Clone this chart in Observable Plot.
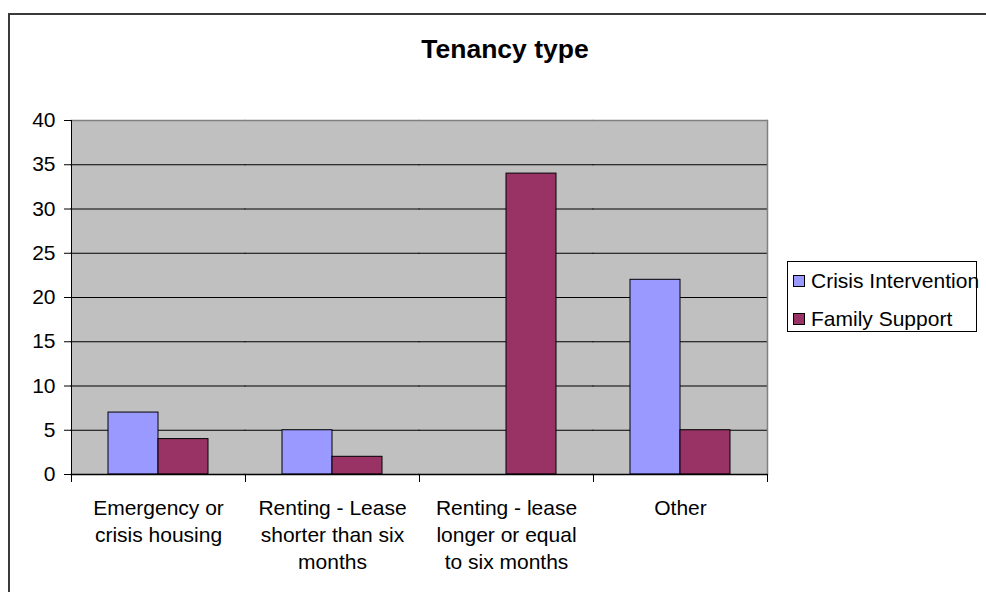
<!DOCTYPE html>
<html>
<head>
<meta charset="utf-8">
<script src="https://cdn.jsdelivr.net/npm/d3@7"></script>
<script src="https://cdn.jsdelivr.net/npm/@observablehq/plot@0.6"></script>
<style>
  html, body { margin: 0; padding: 0; background: #fff; }
  body { width: 986px; height: 592px; position: relative; overflow: hidden; font-family: "Liberation Sans", Arial, sans-serif; }
  #outer { position: absolute; left: 8px; top: 13px; width: 1000px; height: 600px; border-top: 2px solid #3a3a3a; border-left: 2px solid #3a3a3a; }
  #title { position: absolute; left: 0; width: 1010px; top: 36px; text-align: center; font-weight: bold; font-size: 26.5px; line-height: 26px; color: #000; }
  #chart { position: absolute; left: 0; top: 0; }
  #legend { position: absolute; left: 787px; top: 261px; width: 188px; height: 69px; border: 1px solid #000; background: #fff; font-size: 21px; color: #000; }
  .item { position: absolute; left: 5px; white-space: nowrap; line-height: 21px; }
  .sw { display: inline-block; width: 10px; height: 10px; border: 1px solid #000; margin-right: 6px; vertical-align: 1px; }
</style>
</head>
<body>
<div id="outer"></div>
<div id="title">Tenancy type</div>
<div id="chart"></div>
<div id="legend"></div>
<script>
const categories = ["Emergency or crisis housing", "Renting - Lease shorter than six months", "Renting - lease longer or equal to six months", "Other"];
const categoryLabels = ["Emergency or\ncrisis housing", "Renting - Lease\nshorter than six\nmonths", "Renting - lease\nlonger or equal\nto six months", "Other"];
const series = ["Crisis Intervention", "Family Support"];
const crisisIntervention = [7, 5, 0, 22];
const familySupport = [4, 2, 34, 5];
const seriesColors = ["#9999FF", "#993366"];
const yTicks = [0, 5, 10, 15, 20, 25, 30, 35, 40];

const data = [];
categories.forEach((c, i) => {
  data.push({category: c, series: series[0], value: crisisIntervention[i]});
  data.push({category: c, series: series[1], value: familySupport[i]});
});

const W = 986, H = 592, mL = 70, mR = 218, mT = 120, mB = 118;
const plotH = H - mT - mB;

const chart = Plot.plot({
  width: W, height: H,
  marginLeft: mL, marginRight: mR, marginTop: mT, marginBottom: mB,
  style: {fontFamily: "'Liberation Sans', Arial, sans-serif", fontSize: "21px", background: "transparent", color: "#000", overflow: "visible"},
  fx: {domain: categories, padding: 0, label: null},
  x: {domain: series, paddingInner: 0, paddingOuter: 0.71, axis: null},
  y: {domain: [0, 40], label: null},
  color: {domain: series, range: seriesColors},
  marks: [
    Plot.frame({fill: "#C0C0C0", stroke: null, insetLeft: -0.5, insetRight: -0.5}),
    Plot.ruleY(yTicks.filter(v => v > 0 && v < 40), {stroke: "#000", strokeWidth: 1, insetLeft: -0.5, insetRight: -0.5}),
    Plot.ruleY([40], {stroke: "#808080", strokeWidth: 1.5, insetLeft: -0.5, insetRight: -0.5}),
    Plot.frame({anchor: "right", facetAnchor: "right", stroke: "#808080", strokeWidth: 1.5}),
    Plot.barY(data, {fx: "category", x: "series", y: "value", fill: "series", stroke: "#000", strokeWidth: 1}),
    Plot.ruleY([0], {stroke: "#000", strokeWidth: 1.5, insetLeft: -0.5, insetRight: -0.5}),
    Plot.frame({anchor: "left", facetAnchor: "left", stroke: "#000", strokeWidth: 1}),
    Plot.frame({anchor: "left", insetTop: plotH, insetBottom: -7, stroke: "#000", strokeWidth: 1}),
    Plot.frame({anchor: "right", facetAnchor: "right", insetTop: plotH, insetBottom: -7, stroke: "#000", strokeWidth: 1}),
    Plot.axisY({ticks: yTicks, tickSize: 7, tickPadding: 9, fontSize: 21, label: null}),
    Plot.axisFx({anchor: "bottom", tickSize: 0, tickPadding: 21, lineHeight: 1.3, fontSize: 21, label: null,
      tickFormat: c => categoryLabels[categories.indexOf(c)]})
  ]
});
document.getElementById("chart").appendChild(chart);

const legend = document.getElementById("legend");
series.forEach((s, i) => {
  const d = document.createElement("div");
  d.className = "item";
  d.style.top = (8 + i * 38) + "px";
  d.innerHTML = `<span class="sw" style="background:${seriesColors[i]}"></span>${s}`;
  legend.appendChild(d);
});
</script>
</body>
</html>
